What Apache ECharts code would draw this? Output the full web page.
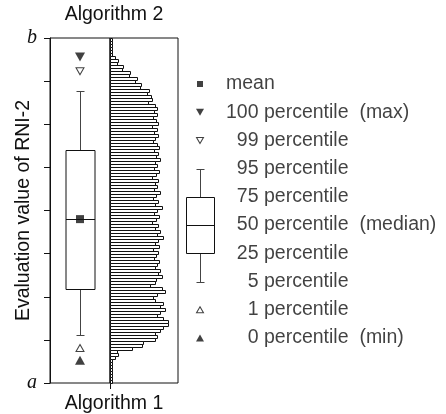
<!DOCTYPE html>
<html lang="en">
<head>
<meta charset="UTF-8">
<title>RNI-2</title>
<script src="https://cdn.jsdelivr.net/npm/echarts@6/dist/echarts.min.js"></script>
<style>html,body{margin:0;padding:0;background:#fff;}</style>
</head>
<body>
<div id="chart" style="width:446px;height:414px;"></div>
<script>
// Algorithm 1: percentiles on the value axis (a = 0 ... b = 8)
let pctNames = ['0', '1', '5', '25', '50', '75', '95', '99', '100'];
let pctValues = [0.53, 0.81, 1.11, 2.18, 3.80, 5.40, 6.77, 7.23, 7.56];
let meanValue = 3.80;
let yTickLabels = ['a', '', '', '', '', '', '', '', 'b'];

// Algorithm 2: histogram, 115 bins from b (top) down to a (bottom)
let histCounts = [
    2, 2, 2, 2, 2, 2,
    5, 8, 7, 13, 12, 20, 19, 27, 25, 31, 30, 39, 37, 41, 42, 38, 45, 47, 44, 47,
    43, 46, 48, 42, 47, 44, 48, 45, 43, 47, 49, 44, 48, 46, 50, 45, 47, 44, 49, 46,
    42, 48, 45, 47, 44, 50, 46, 43, 48, 45, 52, 47, 44, 49, 46, 42, 48, 45, 50, 47,
    53, 48, 45, 49, 43, 48, 46, 44, 49, 47, 45, 50, 48, 52, 46, 45, 40, 52, 55, 47,
    43, 45, 53, 50, 55, 50, 47, 53, 58, 58, 53, 50, 45, 47, 45, 33, 32, 22, 7, 8, 5,
    2, 2, 2, 2, 2, 2, 2, 2
];

// legend rows, top to bottom
let legendNums = ['', '100', '99', '95', '75', '50', '25', '5', '1', '0'];
let legendTexts = ['mean', 'percentile  (max)', 'percentile', 'percentile', 'percentile',
    'percentile  (median)', 'percentile', 'percentile', 'percentile', 'percentile  (min)'];

let font = 'Liberation Sans, Arial, sans-serif';
let fs = 19.5;
let chart = echarts.init(document.getElementById('chart'));

function pct(name) {
    return pctValues[pctNames.indexOf(name)];
}

// box with whiskers; values: x, lowWhisker, boxLow, median, boxHigh, highWhisker
function boxRenderer(boxHalf, capHalf) {
    return function (params, api) {
        let x = api.value(0);
        let p = [1, 2, 3, 4, 5].map(function (i) { return api.coord([x, api.value(i)]); });
        let cx = Math.round(p[0][0]) + 0.5;
        let y = p.map(function (q) { return Math.round(q[1]) + 0.5; });
        let line = { stroke: '#444', lineWidth: 1 };
        return {
            type: 'group',
            children: [
                { type: 'line', shape: { x1: cx, y1: y[3], x2: cx, y2: y[4] }, style: line },
                { type: 'line', shape: { x1: cx - capHalf, y1: y[4], x2: cx + capHalf, y2: y[4] }, style: line },
                { type: 'line', shape: { x1: cx, y1: y[1], x2: cx, y2: y[0] }, style: line },
                { type: 'line', shape: { x1: cx - capHalf, y1: y[0], x2: cx + capHalf, y2: y[0] }, style: line },
                { type: 'rect', shape: { x: cx - boxHalf, y: y[3], width: boxHalf * 2, height: y[1] - y[3] },
                  style: { fill: '#fff', stroke: '#111', lineWidth: 1 } },
                { type: 'line', shape: { x1: cx - boxHalf, y1: y[2], x2: cx + boxHalf, y2: y[2] },
                  style: { stroke: '#111', lineWidth: 1 } }
            ]
        };
    };
}

// one histogram bin as an outlined horizontal bar, snapped to whole pixels
function histItem(params, api) {
    let bin = api.value(1);
    let base = api.coord([0, bin]);
    let end = api.coord([api.value(0), bin]);
    let h = api.size([0, 1])[1];
    return {
        type: 'rect',
        shape: {
            x: Math.round(base[0]) + 0.5,
            y: Math.round(base[1] - h / 2) + 0.5,
            width: Math.max(Math.round(end[0] - base[0]), 1),
            height: Math.round(h)
        },
        style: { fill: '#fff', stroke: '#111', lineWidth: 1 }
    };
}

let filled = { color: '#111' };
let open = { color: '#fff', borderColor: '#111', borderWidth: 1 };
let labelFont = { fontSize: fs, color: '#111', fontFamily: font };

let option = {
    animation: false,
    backgroundColor: '#fff',
    textStyle: { fontFamily: font, color: '#111' },
    title: {
        text: 'Algorithm 1', left: 114, top: 394, padding: 0, textAlign: 'center',
        textStyle: { fontSize: fs, color: '#111', fontFamily: font, fontWeight: 'normal' }
    },
    grid: [
        { left: 50, top: 38, width: 60, height: 345, show: true, borderColor: '#111', borderWidth: 1 },
        { left: 110, top: 38, width: 68, height: 345, show: true, borderColor: '#111', borderWidth: 1 },
        { left: 50, top: 38, width: 128, height: 345 },
        { left: 186, top: 84, width: 28, height: 254 }
    ],
    xAxis: [
        { gridIndex: 0, type: 'category', data: ['Algorithm 1'], show: false },
        { gridIndex: 1, type: 'value', min: 0, max: 68,
          axisLine: { show: false }, splitLine: { show: false }, axisLabel: { show: false },
          axisTick: { show: true, customValues: [0], length: 6, lineStyle: { color: '#111' } } },
        { gridIndex: 2, type: 'value', min: 0, max: 1, position: 'top',
          axisLine: { show: false }, axisTick: { show: false }, axisLabel: { show: false }, splitLine: { show: false },
          name: 'Algorithm 2', nameLocation: 'middle', nameGap: 18, nameMoveOverlap: false,
          nameTextStyle: labelFont },
        { gridIndex: 3, type: 'value', min: 0, max: 1, show: false }
    ],
    yAxis: [
        { gridIndex: 0, type: 'value', min: 0, max: 8, interval: 1,
          axisLine: { show: true, lineStyle: { color: '#111' } },
          axisTick: { show: true, length: 6, lineStyle: { color: '#111' } },
          splitLine: { show: false },
          axisLabel: { margin: 13, fontSize: 20, fontStyle: 'italic', color: '#111',
                       fontFamily: 'Liberation Serif, Times New Roman, serif',
                       formatter: function (v) { return yTickLabels[v] || ''; } },
          name: 'Evaluation value of RNI-2', nameLocation: 'middle', nameGap: 16, nameMoveOverlap: false,
          nameTextStyle: labelFont },
        { gridIndex: 1, type: 'category', inverse: true,
          data: histCounts.map(function (c, i) { return i; }), show: false },
        { gridIndex: 2, type: 'value', min: 0, max: 1, show: false },
        { gridIndex: 3, type: 'value', min: 0, max: 9, inverse: true, show: false }
    ],
    series: [
        { type: 'custom', xAxisIndex: 1, yAxisIndex: 1, renderItem: histItem,
          encode: { x: 0, y: 1 },
          data: histCounts.map(function (c, i) { return [c, i]; }) },
        { type: 'custom', xAxisIndex: 0, yAxisIndex: 0,
          renderItem: boxRenderer(14.5, 4),
          data: [[0, pct('5'), pct('25'), pct('50'), pct('75'), pct('95')]] },
        { type: 'scatter', xAxisIndex: 0, yAxisIndex: 0, z: 5,
          data: [
              { value: [0, meanValue], symbol: 'rect', symbolSize: 8, itemStyle: filled },
              { value: [0, pct('100')], symbol: 'triangle', symbolRotate: 180, symbolSize: [10, 9], itemStyle: filled },
              { value: [0, pct('99')], symbol: 'triangle', symbolRotate: 180, symbolSize: [8, 7], itemStyle: open },
              { value: [0, pct('1')], symbol: 'triangle', symbolSize: [8, 7], itemStyle: open },
              { value: [0, pct('0')], symbol: 'triangle', symbolSize: [10, 9], itemStyle: filled }
          ] },
        // legend
        { type: 'custom', xAxisIndex: 3, yAxisIndex: 3,
          renderItem: boxRenderer(14, 4),
          data: [[0.5, 7, 6, 5, 4, 3]] },
        { type: 'scatter', xAxisIndex: 3, yAxisIndex: 3,
          data: [
              { value: [0.5, 0], symbol: 'rect', symbolSize: 6, itemStyle: filled },
              { value: [0.5, 1], symbol: 'triangle', symbolRotate: 180, symbolSize: [8, 7], itemStyle: filled },
              { value: [0.5, 2], symbol: 'triangle', symbolRotate: 180, symbolSize: [7, 6], itemStyle: open },
              { value: [0.5, 8], symbol: 'triangle', symbolSize: [7, 6], itemStyle: open },
              { value: [0.5, 9], symbol: 'triangle', symbolSize: [8, 7], itemStyle: filled }
          ] },
        // legend numbers, right aligned
        { type: 'scatter', xAxisIndex: 3, yAxisIndex: 3, symbolSize: 1,
          itemStyle: { color: 'rgba(0,0,0,0)' },
          data: legendNums.map(function (n, i) { return [0.5, i]; }),
          label: Object.assign({
              show: true, position: 'right', distance: 58, align: 'right',
              formatter: function (p) { return legendNums[p.dataIndex]; }
          }, labelFont) },
        // legend texts
        { type: 'scatter', xAxisIndex: 3, yAxisIndex: 3, symbolSize: 1,
          itemStyle: { color: 'rgba(0,0,0,0)' },
          data: legendTexts.map(function (t, i) {
              return { value: [0.5, i], label: { distance: legendNums[i] ? 63.5 : 25.5 } };
          }),
          label: Object.assign({
              show: true, position: 'right',
              formatter: function (p) { return legendTexts[p.dataIndex]; }
          }, labelFont) }
    ]
};
chart.setOption(option);
</script>
</body>
</html>
